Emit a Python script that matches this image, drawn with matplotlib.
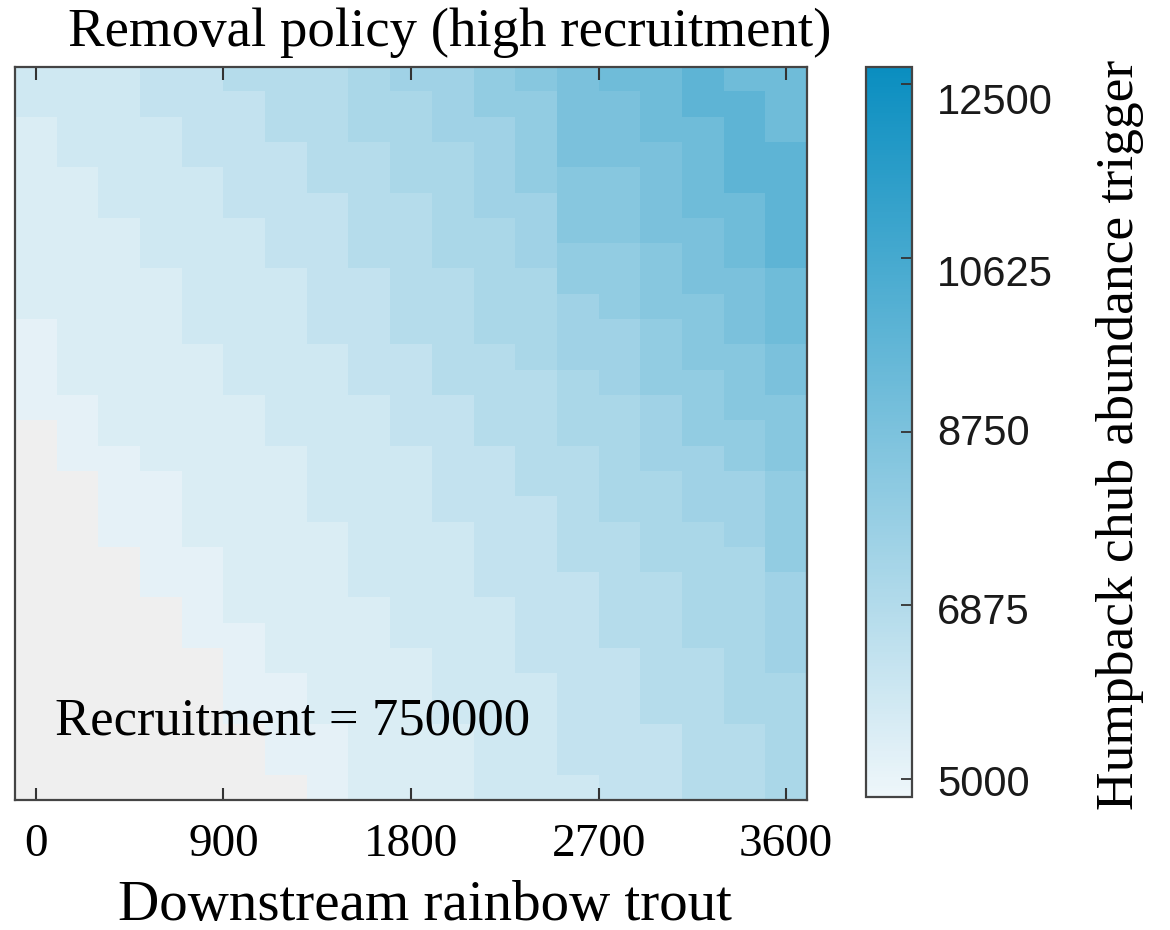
import numpy as np
import matplotlib
matplotlib.use("Agg")
import matplotlib.pyplot as plt
from matplotlib.colors import LinearSegmentedColormap, Normalize

# x categories: downstream rainbow trout (one column per value)
downstream_trout = [0, 200, 400, 600, 800, 1000, 1200, 1400, 1600, 1800,
                    2000, 2200, 2400, 2600, 2800, 3000, 3200, 3400, 3600]

# trigger value for each colour level (0 = no trigger, grey)
trigger_levels = {"1": 5125, "2": 5500, "3": 5875, "4": 6300, "5": 6750,
                  "6": 7125, "7": 7500, "8": 7950, "9": 8375, "a": 8775,
                  "b": 9200, "c": 9750}

# one string per row, top row first, one character per column
level_rows = [
    "3334455567789abbcbb",
    "3334445566788aabccb",
    "2333445566778aabbcb",
    "2333444556678aaabcc",
    "223334455667899abcc",
    "223334445567799abbc",
    "222333445566799aabc",
    "2223334455667889abc",
    "2222333445566889aab",
    "22223334455667899ab",
    "12223334455667789ab",
    "122223334455677899a",
    "122223334455567889a",
    "1122223334455667899",
    "0122223334455667889",
    "0112222333445567789",
    "0011222333445566778",
    "0011222333444566778",
    "0011222233344556678",
    "0001122233344556668",
    "0001122233344455667",
    "0000122223334455667",
    "0000112223334455667",
    "0000012222334445567",
    "0000011222333445566",
    "0000011222333445566",
    "0000001122233444556",
    "0000001122233444556",
    "0000000122233344556",
]

cbar_ticks = [5000, 6875, 8750, 10625, 12500]
# the colour bar labels sit a little below their ticks in the original
cbar_label_y = [785, 613, 434, 275, 103]
x_ticks = [0, 900, 1800, 2700, 3600]

z = np.array([[trigger_levels.get(ch, np.nan) for ch in row] for row in level_rows],
             dtype=float)

cmap = LinearSegmentedColormap.from_list("chub", ["#EEF6FA", "#0A8EC0"])
cmap.set_bad("#EFEFEF")
norm = Normalize(vmin=4810, vmax=12680)

fig = plt.figure(figsize=(11.7, 9.3), dpi=100)
ax = fig.add_axes([15 / 1170, 130 / 930, 792 / 1170, 733 / 930])

step = downstream_trout[1] - downstream_trout[0]
ax.imshow(np.ma.masked_invalid(z), cmap=cmap, norm=norm, aspect="auto",
          interpolation="nearest", origin="upper",
          extent=[downstream_trout[0] - step / 2, downstream_trout[-1] + step / 2,
                  0, len(level_rows)])

serif = ["Liberation Serif", "DejaVu Serif"]
ax.set_xticks(x_ticks)
ax.set_xticklabels([str(t) for t in x_ticks], family=serif, fontsize=34)
ax.set_yticks([])
ax.tick_params(axis="x", direction="in", length=9, width=1.5, top=True,
               pad=17, color="#333333")
for s in ax.spines.values():
    s.set_color("#444444")
    s.set_linewidth(1.6)

ax.text(0.05, 0.107, "Recruitment = 750000", transform=ax.transAxes,
        family=serif, fontsize=38, ha="left", va="center")

fig.text(450 / 1170, 1 - 33 / 930, "Removal policy (high recruitment)",
         family=serif, fontsize=39.5, ha="center", va="center")
fig.text(425 / 1170, 1 - 906 / 930, "Downstream rainbow trout",
         family=serif, fontsize=41, ha="center", va="center")

# colour bar
cax = fig.add_axes([866 / 1170, 133 / 930, 46 / 1170, 730 / 930])
cb = fig.colorbar(plt.cm.ScalarMappable(norm=norm, cmap=cmap), cax=cax)
cb.set_ticks(cbar_ticks)
cax.set_yticklabels([])
cax.tick_params(direction="in", length=8, width=1.3, color="#333333")
cb.outline.set_edgecolor("#444444")
cb.outline.set_linewidth(1.6)
for val, ypix in zip(cbar_ticks, cbar_label_y):
    fig.text(937 / 1170, 1 - ypix / 930, str(val), fontsize=30,
             family=["Liberation Sans", "DejaVu Sans"], ha="left", va="center",
             color="#1a1a1a")

fig.text(1120 / 1170, 1 - 435 / 930, "Humpback chub abundance trigger",
         family=serif, fontsize=38.5, rotation=90, ha="center", va="center")

fig.savefig("out.png", dpi=100)
